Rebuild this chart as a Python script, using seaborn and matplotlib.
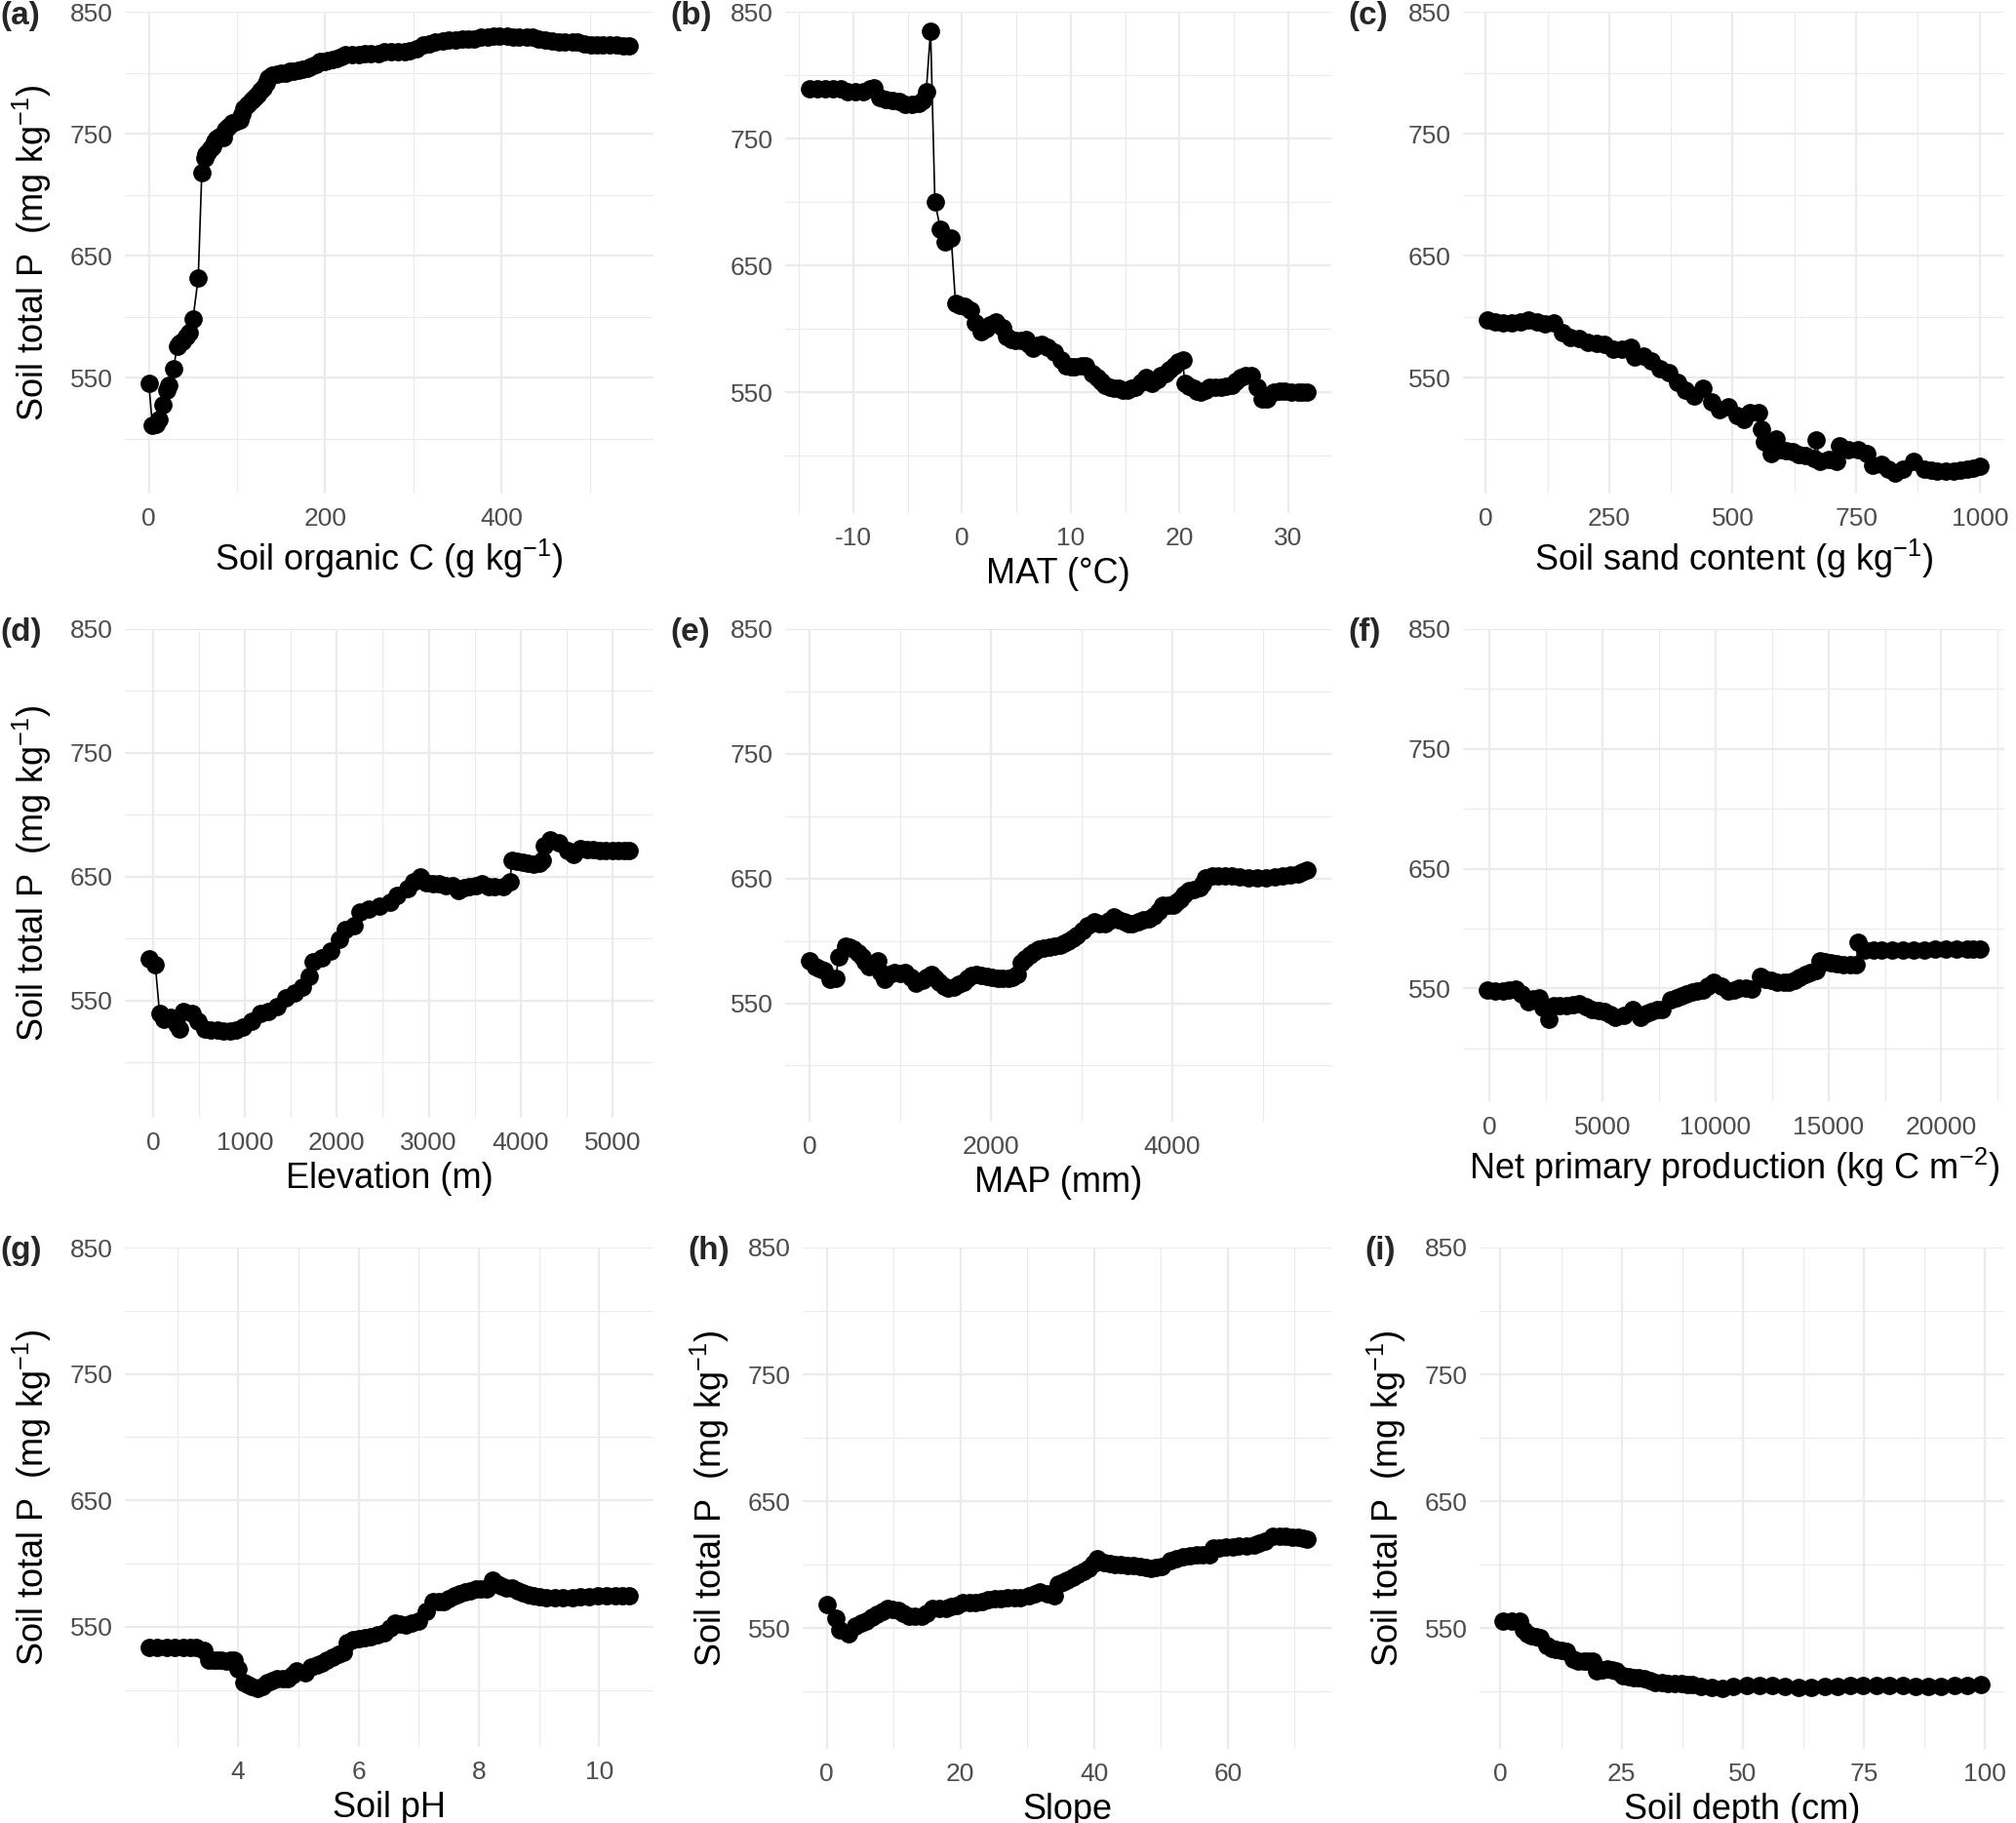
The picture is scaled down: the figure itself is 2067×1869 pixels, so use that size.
import numpy as np
import pandas as pd
import matplotlib
matplotlib.use("Agg")
import matplotlib.pyplot as plt
import seaborn as sns
from matplotlib.ticker import MultipleLocator, FixedLocator, FuncFormatter

# datos (valores aproximados)
soc_x = [0, 4, 8, 12, 16, 20, 23, 28, 32, 35, 38, 42, 46, 50, 56, 60, 63, 65, 67, 70, 72, 75, 77, 80, 84, 87, 90, 94, 98,
         103, 106, 108, 112, 116, 120, 123, 127, 130, 133, 135, 140, 145, 150, 155, 160, 164, 170, 174, 180, 184, 190, 194,
         200, 203, 208, 213, 218, 223, 230, 238, 245, 252, 260, 267, 275, 282, 290, 296, 304, 311, 318, 325, 333, 340, 348,
         355, 362, 369, 377, 384, 391, 398, 406, 413, 420, 428, 435, 442, 450, 457, 465, 472, 480, 486, 494, 501, 508, 515,
         523, 530, 538, 545]
soc_y = [545, 511, 512, 516, 528, 540, 544, 557, 576, 578, 580, 584, 587, 598, 632, 718, 730, 733, 735, 738, 740, 744, 746,
         748, 747, 753, 756, 759, 760, 761, 766, 771, 774, 777, 780, 782, 785, 788, 792, 796, 798, 799, 800, 800, 801, 801,
         802, 803, 804, 805, 807, 809, 809, 810, 811, 812, 813, 815, 815, 815, 816, 816, 816, 817, 817, 817, 817, 818, 820,
         823, 824, 825, 826, 827, 827, 828, 828, 828, 829, 829, 830, 830, 830, 829, 829, 829, 829, 828, 827, 826, 825, 825,
         825, 825, 824, 823, 823, 823, 823, 823, 822, 822]

mat_x = [-14.0, -13.3, -12.6, -11.9, -11.2, -10.5, -9.8, -9.1, -8.5, -8.1, -7.6, -7.0, -6.4, -5.8, -5.2, -4.6, -4.0, -3.6,
         -3.3, -2.9, -2.5, -2.0, -1.6, -1.0, -0.6, -0.2, 0.2, 0.8, 1.2, 1.8, 2.2, 2.6, 3.1, 3.7, 4.1, 4.5, 4.9, 5.4, 5.9,
         6.2, 6.5, 7.0, 7.3, 7.9, 8.5, 9.1, 9.6, 10.0, 10.4, 11.0, 11.4, 12.0, 12.4, 12.8, 13.2, 13.6, 14.0, 14.4, 14.8, 15.2,
         15.6, 15.9, 16.5, 16.9, 17.5, 18.0, 18.3, 18.7, 19.1, 19.5, 19.9, 20.3, 20.5, 20.9, 21.3, 21.6, 22.0, 22.4, 22.8,
         23.3, 23.8, 24.3, 24.8, 25.2, 25.6, 26.1, 26.6, 27.2, 27.6, 28.1, 28.7, 29.2, 29.7, 30.3, 30.9, 31.3, 31.7]
mat_y = [789, 789, 789, 789, 789, 787, 787, 787, 789, 790, 782, 781, 780, 779, 777, 777, 778, 780, 787, 835, 700, 679, 669,
         672, 620, 619, 618, 615, 605, 598, 600, 603, 606, 601, 594, 592, 591, 591, 592, 588, 585, 587, 588, 586, 582, 576,
         571, 570, 570, 571, 571, 565, 562, 559, 556, 554, 553, 553, 552, 552, 553, 554, 558, 562, 557, 560, 563, 565, 568,
         571, 574, 576, 557, 555, 553, 551, 550, 552, 554, 554, 554, 555, 556, 559, 562, 563, 563, 554, 545, 545, 550, 551,
         551, 550, 550, 550, 550]

sand_x = [4, 20, 36, 52, 70, 86, 104, 121, 138, 155, 172, 190, 207, 224, 241, 259, 276, 293, 302, 319, 336, 353, 371, 388,
          405, 422, 440, 457, 474, 491, 509, 522, 534, 552, 559, 565, 578, 588, 595, 608, 621, 634, 647, 664, 668, 677, 694,
          711, 716, 733, 754, 772, 784, 802, 815, 828, 845, 867, 888, 901, 914, 931, 948, 961, 974, 987, 1000]
sand_y = [597.5, 596, 595, 595, 596, 597, 596, 594, 595, 587, 583, 582, 579, 578, 577, 573, 573, 575, 567, 568, 564, 557,
          554, 546, 540, 535, 541, 530, 524, 526, 519, 516, 521, 521, 508, 497, 488, 500, 491, 490, 489, 487, 486, 484, 499,
          481, 483, 481, 494, 491, 491, 488, 478, 479, 475, 472, 475, 481, 475, 474, 473, 473, 473, 474, 475, 476, 477]

elev_x = [-47, 23, 70, 116, 186, 256, 288, 326, 419, 488, 558, 628, 698, 767, 837, 907, 977, 1070, 1163, 1256, 1349, 1442,
          1535, 1628, 1698, 1744, 1837, 1930, 2023, 2093, 2186, 2256, 2349, 2465, 2581, 2651, 2767, 2837, 2907, 2977, 3047,
          3116, 3186, 3256, 3326, 3384, 3442, 3512, 3581, 3651, 3721, 3814, 3884, 3907, 3965, 4023, 4082, 4140, 4200, 4242,
          4256, 4326, 4419, 4512, 4581, 4651, 4721, 4791, 4860, 4930, 5000, 5070, 5128, 5186]
elev_y = [583.5, 578.5, 539, 534.5, 536, 531, 527, 541, 539, 533, 527, 526, 526, 525, 525, 526, 528.5, 533, 539, 541, 545,
          552, 556, 561, 569, 581, 584, 590, 599.6, 607, 610.5, 621, 624, 626, 629, 635, 640, 646, 650, 645, 644, 644, 643,
          642.6, 638.6, 641, 641.5, 643, 644, 642, 641.5, 641.5, 645.5, 663, 662, 661.6, 661, 660, 661, 663, 674.6, 680, 677,
          671, 668, 672.4, 672, 671.5, 671, 671, 671, 671, 671, 671]

map_x = [0, 57, 105, 152, 223, 284, 317, 389, 436, 483, 530, 578, 613, 649, 697, 744, 785, 825, 880, 934, 993, 1052, 1112,
         1171, 1242, 1290, 1336, 1384, 1431, 1480, 1526, 1585, 1645, 1692, 1739, 1787, 1834, 1894, 1953, 2012, 2071, 2130,
         2190, 2237, 2284, 2332, 2380, 2427, 2474, 2521, 2580, 2640, 2699, 2758, 2805, 2853, 2900, 2948, 3007, 3066, 3137,
         3196, 3256, 3303, 3351, 3410, 3469, 3517, 3564, 3623, 3682, 3741, 3801, 3848, 3896, 3955, 4014, 4050, 4085, 4133,
         4180, 4240, 4299, 4334, 4370, 4441, 4512, 4583, 4654, 4749, 4844, 4939, 5033, 5128, 5223, 5306, 5389, 5436, 5483]
map_y = [584, 579.5, 578, 576.4, 569.4, 570, 587, 596, 595, 593.4, 590, 587, 583, 579.5, 580, 584, 575, 569.4, 573, 575,
         574, 575, 571, 566, 568.6, 571, 573, 570, 567, 564, 562.4, 563, 565, 567, 570, 572, 573, 572, 571.7, 571, 570, 570,
         570, 571, 573, 582.6, 586, 588.8, 591, 593.4, 594, 595, 596, 596.5, 598, 599.6, 602, 604.3, 608, 612, 615, 614,
         613.6, 616, 619, 617, 615, 614, 614, 615, 616.7, 618, 619.8, 624, 629, 629, 629, 631, 633.7, 637, 640, 641, 643,
         646, 650.7, 652.3, 652.3, 652.3, 652.3, 651.5, 650.7, 650.7, 650.7, 651.5, 652.3, 653, 654, 655.5, 657]

npp_x = [-94, 236, 566, 849, 1132, 1415, 1698, 1934, 2170, 2358, 2604, 2830, 3113, 3396, 3679, 3962, 4245, 4528, 4811, 5094,
         5330, 5566, 5943, 6321, 6698, 6934, 7170, 7406, 7642, 8019, 8255, 8491, 8726, 8962, 9198, 9434, 9670, 9906, 10283,
         10566, 10802, 11038, 11321, 11604, 11981, 12217, 12453, 12736, 13019, 13255, 13491, 13726, 13962, 14198, 14434,
         14623, 14858, 15094, 15377, 15660, 15943, 16226, 16321, 16604, 16981, 17358, 17830, 18302, 18774, 19245, 19717,
         20189, 20660, 21132, 21415, 21698]
npp_y = [548.7, 548, 547.7, 548.5, 549.3, 545.5, 539, 541, 542, 534, 524.6, 535.8, 536, 535.8, 536.5, 537.4, 535, 532.6,
         531.5, 531, 528, 526, 527.8, 532.6, 526, 529, 531, 532, 532.6, 540.6, 542, 543.9, 545.5, 547, 548, 548.7, 552, 555,
         552, 547.7, 549, 550.3, 550, 549.6, 559.9, 558, 556.7, 555.5, 555, 555.5, 556.7, 559, 561.5, 563, 564.7, 572.8,
         572, 571.2, 570.5, 569.6, 569.6, 569.6, 588.8, 582.4, 582.4, 582.4, 582.4, 582.4, 582.4, 582.4, 582.7, 583, 583,
         583, 583, 583]

ph_x = [2.52, 2.66, 2.81, 2.95, 3.09, 3.20, 3.30, 3.44, 3.52, 3.59, 3.66, 3.73, 3.80, 3.87, 3.93, 4.00, 4.09, 4.16, 4.23,
        4.33, 4.40, 4.48, 4.56, 4.65, 4.74, 4.83, 4.90, 4.97, 5.11, 5.22, 5.31, 5.40, 5.48, 5.57, 5.66, 5.75, 5.82, 5.91,
        6.00, 6.10, 6.21, 6.32, 6.43, 6.52, 6.60, 6.69, 6.78, 6.88, 6.99, 7.13, 7.24, 7.33, 7.42, 7.50, 7.59, 7.68, 7.77,
        7.86, 7.95, 8.04, 8.13, 8.23, 8.30, 8.38, 8.46, 8.55, 8.64, 8.73, 8.82, 8.91, 9.01, 9.12, 9.26, 9.40, 9.55, 9.69,
        9.83, 9.97, 10.12, 10.26, 10.38, 10.50]
ph_y = [534, 534, 534, 534, 534, 534, 534, 531.7, 524, 524, 524, 523.5, 523, 523.5, 524, 516.5, 505.8, 504, 502.7, 501,
        503, 505.8, 507.5, 508.8, 508.8, 508.8, 512, 515, 513.4, 518, 519.5, 521, 523.5, 525.6, 528, 530, 537.8, 539.5,
        540.9, 541.5, 542.4, 544, 545.5, 549, 553, 552, 551.6, 553, 554.6, 562.2, 569.9, 570, 569.9, 572, 574.4, 576, 577.5,
        578.5, 579.6, 579.6, 579.6, 586.6, 584, 582, 581, 580.5, 578.5, 576.6, 575.5, 574.4, 573.5, 573, 573, 573, 573.2,
        573.5, 574, 574.4, 574.4, 574.4, 574.4, 574.4]

slope_x = [0, 1.3, 1.9, 3.2, 4.3, 5.1, 5.9, 6.7, 7.5, 8.3, 9.1, 9.9, 10.7, 11.5, 12.3, 13.2, 14.2, 15.0, 15.8, 16.8, 17.8,
           18.6, 19.4, 20.3, 21.3, 22.2, 23.2, 24.1, 25.1, 26.1, 27.1, 28.0, 29.0, 30.3, 31.1, 31.9, 33.0, 34.1, 34.7, 35.3,
           36.0, 36.8, 37.6, 38.4, 39.2, 39.9, 40.5, 41.5, 42.3, 43.1, 44.0, 45.0, 45.9, 46.9, 47.7, 48.5, 49.3, 50.1, 51.4,
           52.3, 53.3, 54.3, 55.3, 56.2, 57.2, 57.8, 58.7, 59.7, 60.7, 61.7, 62.8, 63.9, 64.7, 65.5, 66.8, 67.7, 68.7, 69.6,
           70.6, 71.3, 71.9]
slope_y = [569, 557.7, 549, 546, 551.6, 554, 556, 558.5, 560.7, 563.5, 566, 565, 563.8, 561.5, 559.2, 559.2, 559.2, 562,
           565.3, 565.6, 566, 567.2, 568.3, 569.9, 569.9, 570.5, 571.4, 572.2, 573, 573.7, 574.4, 574.4, 574.4, 576, 577.5,
           579, 577.5, 576, 585, 586.5, 588.2, 590.5, 592.7, 595, 597.3, 601, 605, 602, 601, 600.4, 600, 599.8, 599.3,
           598.9, 598, 597.3, 598, 598.9, 603.4, 605, 606.5, 607.2, 608, 608, 608, 613.2, 613.6, 614.1, 614.4, 614.7, 615.2,
           615.6, 617, 618.7, 622.3, 622.3, 622.3, 622, 621.7, 621, 620.2]

depth_x = [0.6, 2.4, 4.0, 4.7, 5.5, 6.4, 7.3, 8.2, 9.6, 10.5, 11.4, 12.5, 13.6, 15.0, 16.1, 17.2, 18.1, 19.0, 19.9, 21.0,
           22.1, 23.0, 23.8, 25.2, 26.4, 27.5, 28.6, 29.7, 30.9, 32.0, 33.3, 34.6, 36.0, 37.3, 38.5, 39.6, 41.4, 43.6, 45.8,
           48.1, 50.8, 53.4, 56.1, 58.8, 61.5, 64.2, 66.9, 69.6, 72.2, 74.9, 77.6, 80.3, 83.0, 85.7, 88.4, 91.0, 93.7, 96.4,
           99.1]
depth_y = [556, 556, 556, 548.5, 546, 544, 543, 542.4, 536.3, 534.5, 533.3, 532.5, 531.7, 525.6, 524.5, 524, 524, 524,
           516.5, 517, 518, 517, 516.5, 512.5, 512, 511.3, 511, 510.4, 509, 507.3, 507, 506.4, 506.4, 506.4, 506, 505.8,
           504.3, 503.6, 502.7, 504.3, 504.9, 505.2, 505.2, 504.3, 503.6, 503.6, 504, 504.3, 504.6, 504.9, 504.9, 504.9,
           504.6, 504.3, 504, 504.3, 504.9, 505.2, 505.8]

ylab = "Soil total P  (mg kg$^{-1}$)"

# (etiqueta, x, y, titulo x, ylabel?, major, minor, rect en px [izq, arriba, der, abajo])
paneles = [
    ("(a)", soc_x, soc_y, "Soil organic C (g kg$^{-1}$)", True, 200, 100, [128, 12, 670, 506]),
    ("(b)", mat_x, mat_y, "MAT (°C)", False, 10, 5, [805, 12, 1365, 526]),
    ("(c)", sand_x, sand_y, "Soil sand content (g kg$^{-1}$)", False, 250, 125, [1500, 12, 2055, 506]),
    ("(d)", elev_x, elev_y, "Elevation (m)", True, 1000, 500, [128, 645, 670, 1146]),
    ("(e)", map_x, map_y, "MAP (mm)", False, 2000, 1000, [805, 645, 1365, 1150]),
    ("(f)", npp_x, npp_y, "Net primary production (kg C m$^{-2}$)", False, 5000, 2500, [1500, 645, 2055, 1130]),
    ("(g)", ph_x, ph_y, "Soil pH", True, 2, 1, [128, 1279, 670, 1791]),
    ("(h)", slope_x, slope_y, "Slope", True, 20, 10, [823, 1279, 1365, 1793]),
    ("(i)", depth_x, depth_y, "Soil depth (cm)", True, 25, 12.5, [1517, 1279, 2055, 1793]),
]

sns.set_theme(style="whitegrid")
plt.rcParams["font.family"] = ["Liberation Sans", "DejaVu Sans"]
plt.rcParams["mathtext.fontset"] = "custom"
plt.rcParams["mathtext.rm"] = "Liberation Sans"
plt.rcParams["mathtext.it"] = "Liberation Sans:italic"
plt.rcParams["mathtext.default"] = "regular"

W, H = 2067, 1869
fig = plt.figure(figsize=(W / 100, H / 100), dpi=100)
fig.patch.set_facecolor("white")

for etiqueta, xs, ys, xtitulo, con_ylab, mayor, menor, (l, t, r, b) in paneles:
    ax = fig.add_axes([l / W, 1 - b / H, (r - l) / W, (b - t) / H])
    df = pd.DataFrame({"x": xs, "y": ys})
    sns.lineplot(data=df, x="x", y="y", ax=ax, color="black", linewidth=1.2,
                 marker="o", markersize=13.5, markeredgewidth=0, estimator=None)

    lo, hi = min(xs), max(xs)
    pad = 0.05 * (hi - lo)
    ax.set_xlim(lo - pad, hi + pad)
    ax.set_ylim(455, 850)

    ax.xaxis.set_major_locator(MultipleLocator(mayor))
    ax.xaxis.set_minor_locator(MultipleLocator(menor))
    ax.yaxis.set_major_locator(FixedLocator([550, 650, 750, 850]))
    ax.yaxis.set_minor_locator(FixedLocator([500, 600, 700, 800]))
    ax.xaxis.set_major_formatter(FuncFormatter(lambda v, p: f"{v:g}"))

    ax.set_facecolor("white")
    ax.grid(which="major", color="#EBEBEB", linewidth=1.6)
    ax.grid(which="minor", color="#EBEBEB", linewidth=0.8)
    ax.set_axisbelow(True)
    for s in ax.spines.values():
        s.set_visible(False)
    ax.tick_params(axis="both", which="both", length=0, labelsize=19, labelcolor="#4D4D4D")
    ax.tick_params(axis="x", pad=10)
    ax.tick_params(axis="y", pad=9)

    ax.set_xlabel(xtitulo, fontsize=26, color="black", labelpad=5)
    if con_ylab:
        ax.set_ylabel(ylab, fontsize=26, color="black")
        ax.yaxis.set_label_coords(-0.135, 0.5)
    else:
        ax.set_ylabel("")

    fig.text(0 if l < 200 else (l - 118) / W, 1 - (t + 4) / H, etiqueta,
             fontsize=24, fontweight="bold", ha="left", va="center")

fig.savefig("out.png", dpi=100, facecolor="white")
plt.close(fig)
